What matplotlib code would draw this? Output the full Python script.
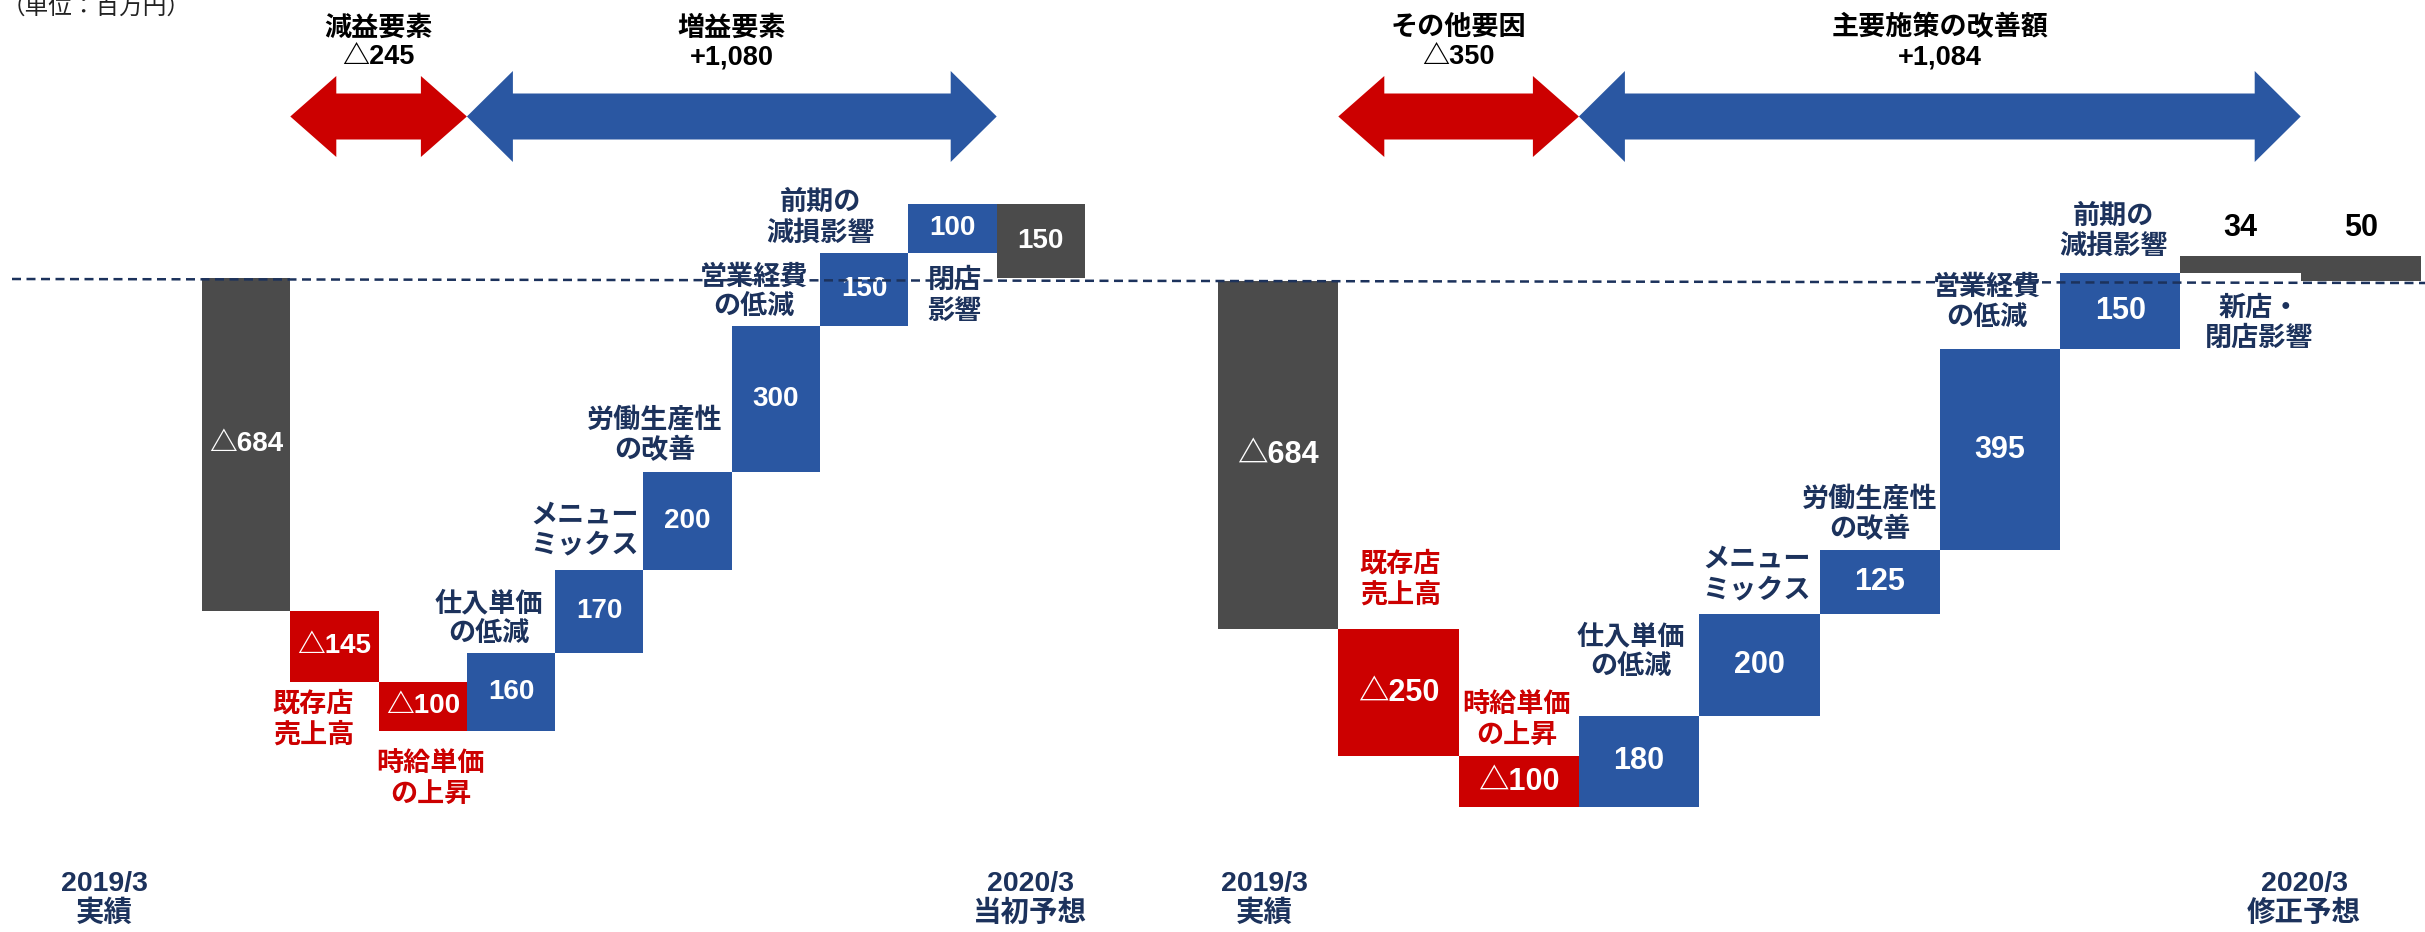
import matplotlib
matplotlib.use('Agg')
import matplotlib.pyplot as plt
from matplotlib.patches import Polygon
from matplotlib.lines import Line2D
from matplotlib.transforms import blended_transform_factory

# ---------------- data ----------------
unit_label = '（単位：百万円）'

left_categories = ['2019/3\n実績', '既存店\n売上高', '時給単価\nの上昇', '仕入単価\nの低減',
                   'メニュー\nミックス', '労働生産性\nの改善', '営業経費\nの低減',
                   '前期の\n減損影響', '閉店\n影響', '2020/3\n当初予想']
left_values = [-684, -145, -100, 160, 170, 200, 300, 150, 100, 150]
left_kinds = ['total', 'delta', 'delta', 'delta', 'delta', 'delta', 'delta', 'delta', 'delta', 'total']
left_groups = [('減益要素', 1, 2), ('増益要素', 3, 8)]

right_categories = ['2019/3\n実績', '既存店\n売上高', '時給単価\nの上昇', '仕入単価\nの低減',
                    'メニュー\nミックス', '労働生産性\nの改善', '営業経費\nの低減',
                    '前期の\n減損影響', '新店・\n閉店影響', '2020/3\n修正予想']
right_values = [-684, -250, -100, 180, 200, 125, 395, 150, 34, 50]
right_kinds = ['total', 'delta', 'delta', 'delta', 'delta', 'delta', 'delta', 'delta', 'other', 'total']
right_groups = [('その他要因', 1, 2), ('主要施策の改善額', 3, 8)]

# ---------------- style / layout ----------------
W, H, DPI = 2425, 932, 100
C_GRAY = '#4B4B4B'
C_RED = '#CC0000'
C_BLUE = '#2A57A2'
C_NAVY = '#1C325C'
CJK = ['Noto Sans CJK JP']
NUM = ['Liberation Sans', 'Noto Sans CJK JP']
MIX = ['Liberation Sans', 'Noto Sans CJK JP', 'DejaVu Sans']

fig = plt.figure(figsize=(W / DPI, H / DPI), dpi=DPI)


def px_to_fig(x, y):
    return x / W, 1 - y / H


panels = [
    dict(cats=left_categories, vals=left_values, kinds=left_kinds, groups=left_groups,
         ax_px=(0, 1200), bar0=202, bar_w=88.3, zero=277.5, scale=0.4877, numsize=20,
         first_pos=(104, 899), last_pos=(1030, 899),
         lab={1: ('bottom', -21, 37), 2: ('bottom', 8, 48), 3: ('top', -22, -34),
              4: ('top', -15, -40), 5: ('top', -33, -37), 6: ('top', -22, -34),
              7: ('top', -44, -35), 8: ('bottom', 2, 43)}),
    dict(cats=right_categories, vals=right_values, kinds=right_kinds, groups=right_groups,
         ax_px=(1200, 2425), bar0=1218, bar_w=120.3, zero=281, scale=0.5088, numsize=22,
         first_pos=(1264, 899), last_pos=(2304, 899),
         lab={1: ('top', 2, -50), 2: ('top', -2, -37), 3: ('top', -8, -64),
              4: ('top', -3, -40), 5: ('top', -10, -36), 6: ('top', -13, -47),
              7: ('top', -7, -42), 8: ('bottom', 19, 50)}),
]


def fmt_val(v):
    return ('△{:,}'.format(-v)) if v < 0 else '{:,}'.format(v)


def fmt_sum(v):
    return ('△{:,}'.format(-v)) if v < 0 else '+{:,}'.format(v)


for p in panels:
    x0, x1 = p['ax_px']
    ax = fig.add_axes([x0 / W, 0, (x1 - x0) / W, 1])
    ax.axis('off')
    L = -0.5 - (p['bar0'] - x0) / p['bar_w']
    R = -0.5 + (x1 - p['bar0']) / p['bar_w']
    ax.set_xlim(L, R)
    ax.set_ylim(-(H - p['zero']) / p['scale'], p['zero'] / p['scale'])

    vals, kinds = p['vals'], p['kinds']
    bottoms, heights, colors = [], [], []
    cum = 0
    for v, k in zip(vals, kinds):
        if k == 'total':
            bottoms.append(0)
            heights.append(v)
            colors.append(C_GRAY)
            cum = v
        else:
            bottoms.append(cum)
            heights.append(v)
            if k == 'other':
                colors.append(C_GRAY)
            else:
                colors.append(C_RED if v < 0 else C_BLUE)
            cum += v
    xs = list(range(len(vals)))
    ax.bar(xs, heights, bottom=bottoms, width=1.0, color=colors, linewidth=0, zorder=2)

    # value labels
    for i, (b, h, v) in enumerate(zip(bottoms, heights, vals)):
        top = max(b, b + h)
        if abs(h) * p['scale'] < 35:
            ax.annotate(fmt_val(v), xy=(i, top), xytext=(0, 28), textcoords='offset pixels',
                        ha='center', va='center', fontsize=p['numsize'], fontweight='bold',
                        color='black', family=NUM, zorder=5)
        else:
            ax.text(i, b + h / 2, fmt_val(v), ha='center', va='center', fontsize=p['numsize'],
                    fontweight='bold', color='white', family=NUM, zorder=5)

    # category labels
    for i, (anchor, dx, dy) in p['lab'].items():
        b, h = bottoms[i], heights[i]
        yref = max(b, b + h) if anchor == 'top' else min(b, b + h)
        col = C_RED if (kinds[i] == 'delta' and vals[i] < 0) else C_NAVY
        ax.annotate(p['cats'][i], xy=(i, yref), xytext=(dx, -dy), textcoords='offset pixels',
                    ha='center', va='center', multialignment='center', fontsize=19.5,
                    fontweight='bold', color=col, family=CJK, linespacing=1.12, zorder=5)

    # first / last column labels
    for idx, pos in ((0, p['first_pos']), (len(vals) - 1, p['last_pos'])):
        fx, fy = px_to_fig(*pos)
        fig.text(fx, fy, p['cats'][idx], ha='center', va='center', multialignment='center',
                 fontsize=20.5, fontweight='bold', color=C_NAVY, family=MIX, linespacing=1.15)

    # group arrows and headers
    tr = blended_transform_factory(ax.transData, ax.transAxes)
    head = 46 / p['bar_w']
    yc = 1 - 116.5 / H
    s = 23 / H
    for gi, (name, i0, i1) in enumerate(p['groups']):
        total = sum(vals[i0:i1 + 1])
        col = C_RED if total < 0 else C_BLUE
        hw = (40.5 if total < 0 else 45.5) / H
        a, bx = i0 - 0.5, i1 + 0.5
        pts = [(a, yc), (a + head, yc + hw), (a + head, yc + s), (bx - head, yc + s),
               (bx - head, yc + hw), (bx, yc), (bx - head, yc - hw), (bx - head, yc - s),
               (a + head, yc - s), (a + head, yc - hw)]
        ax.add_patch(Polygon(pts, closed=True, transform=tr, facecolor=col,
                             edgecolor='none', clip_on=False, zorder=3))
        cx = (a + bx) / 2
        ax.text(cx, 1 - 27.5 / H, name, transform=tr, ha='center', va='center', fontsize=19.5,
                fontweight='bold', color='black', family=CJK)
        ax.text(cx, 1 - 57.5 / H, fmt_sum(total), transform=tr, ha='center', va='center',
                fontsize=19.5, fontweight='bold', color='black', family=NUM)

# dashed zero line across the figure
fx0, fy0 = px_to_fig(12, 279)
fx1, fy1 = px_to_fig(2425, 283)
fig.add_artist(Line2D([fx0, fx1], [fy0, fy1], transform=fig.transFigure, color=C_NAVY,
                      linewidth=1.8, linestyle=(0, (3.6, 2.2)), zorder=10))

# unit label (partly cropped at the top edge, as in the source slide)
ux, uy = px_to_fig(2, 7)
fig.text(ux, uy, unit_label, ha='left', va='center', fontsize=17, color='#222222', family=CJK)

fig.savefig('out.png', dpi=DPI)
